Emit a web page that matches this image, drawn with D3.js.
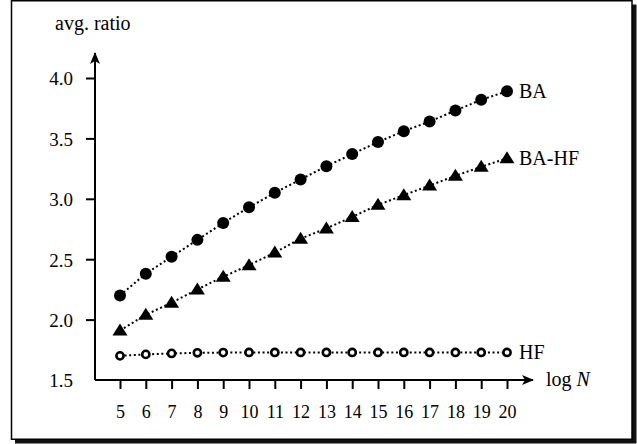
<!DOCTYPE html>
<html>
<head>
<meta charset="utf-8">
<script src="https://cdn.jsdelivr.net/npm/d3@7"></script>
<style>
  body { margin: 0; background: #fff; }
</style>
</head>
<body>
<div id="chart"></div>
<script>
const logN = [5, 6, 7, 8, 9, 10, 11, 12, 13, 14, 15, 16, 17, 18, 19, 20]
const ba = [2.20, 2.38, 2.52, 2.66, 2.80, 2.93, 3.05, 3.16, 3.27, 3.37, 3.47, 3.56, 3.64, 3.73, 3.82, 3.89]
const baHf = [1.91, 2.04, 2.14, 2.25, 2.355, 2.45, 2.555, 2.67, 2.755, 2.85, 2.95, 3.03, 3.11, 3.19, 3.265, 3.335]
const hf = [1.70, 1.712, 1.72, 1.725, 1.727, 1.728, 1.728, 1.728, 1.728, 1.728, 1.728, 1.728, 1.728, 1.728, 1.728, 1.728]
const yTicks = [1.5, 2.0, 2.5, 3.0, 3.5, 4.0]

const svgWidth = 637
const svgHeight = 444
const serif = 'Liberation Serif, DejaVu Serif, serif'

const svg = d3.select('#chart').append('svg')
  .attr('width', svgWidth)
  .attr('height', svgHeight)
  .style('display', 'block')
  .attr('font-family', serif)

// framed box with drop shadow
svg.append('rect')
  .attr('x', 15).attr('y', 4.5)
  .attr('width', 621.5).attr('height', 439)
  .attr('fill', '#111')
svg.append('rect')
  .attr('x', 11.5).attr('y', 0.75)
  .attr('width', 620.5).attr('height', 438.5)
  .attr('fill', '#fff')
  .attr('stroke', '#000')
  .attr('stroke-width', 1.5)

const x = d3.scaleLinear().domain([5, 20]).range([120, 507])
const y = d3.scaleLinear().domain([1.5, 4.0]).range([380, 78])
const x0 = 95

svg.append('defs').append('marker')
  .attr('id', 'arrow')
  .attr('viewBox', '0 0 12 10')
  .attr('refX', 11).attr('refY', 5)
  .attr('markerWidth', 12).attr('markerHeight', 10)
  .attr('markerUnits', 'userSpaceOnUse')
  .attr('orient', 'auto')
  .append('path')
  .attr('d', 'M0,0 L12,5 L0,10 L3,5 Z')
  .attr('fill', '#000')

// axis lines with arrows
svg.append('line')
  .attr('x1', x0).attr('y1', y(1.5))
  .attr('x2', x0).attr('y2', 53)
  .attr('stroke', '#000').attr('stroke-width', 2)
  .attr('marker-end', 'url(#arrow)')
svg.append('line')
  .attr('x1', x0).attr('y1', y(1.5))
  .attr('x2', 533).attr('y2', y(1.5))
  .attr('stroke', '#000').attr('stroke-width', 2)
  .attr('marker-end', 'url(#arrow)')

const yAxis = svg.append('g')
  .attr('transform', 'translate(' + x0 + ',0)')
  .call(d3.axisLeft(y).tickValues(yTicks.slice(1)).tickSize(9).tickPadding(13).tickFormat(d3.format('.1f')))
  .attr('font-family', serif)
yAxis.select('.domain').remove()
yAxis.selectAll('line').attr('stroke-width', 2)
yAxis.selectAll('text').attr('font-size', 19).attr('fill', '#000').attr('dy', '0.36em')

// 1.5 label sits at the x axis without a tick
svg.append('text')
  .attr('x', x0 - 22).attr('y', y(1.5))
  .attr('dy', '0.36em')
  .attr('text-anchor', 'end')
  .attr('font-size', 19)
  .text(d3.format('.1f')(yTicks[0]))

const xAxis = svg.append('g')
  .attr('transform', 'translate(0,' + y(1.5) + ')')
  .call(d3.axisBottom(x).tickValues(logN).tickSize(9).tickPadding(16).tickFormat(d3.format('d')))
  .attr('font-family', serif)
xAxis.select('.domain').remove()
xAxis.selectAll('line').attr('stroke-width', 2)
xAxis.selectAll('text').attr('font-size', 18).attr('fill', '#000')

svg.append('text')
  .attr('x', 55).attr('y', 30)
  .attr('font-size', 20)
  .text('avg. ratio')

const xLabel = svg.append('text')
  .attr('x', 546).attr('y', 386)
  .attr('font-size', 20)
xLabel.append('tspan').text('log ')
xLabel.append('tspan').attr('font-style', 'italic').text('N')

const line = d3.line()
  .x((d, i) => x(logN[i]))
  .y(d => y(d))

const series = [
  {name: 'BA', values: ba, marker: 'dot'},
  {name: 'BA-HF', values: baHf, marker: 'tri'},
  {name: 'HF', values: hf, marker: 'ring'}
]

series.forEach(s => {
  svg.append('path')
    .datum(s.values)
    .attr('fill', 'none')
    .attr('stroke', '#000')
    .attr('stroke-width', 2)
    .attr('stroke-dasharray', '2,2.6')
    .attr('d', line)

  const g = svg.append('g')
  const pts = g.selectAll('.pt')
    .data(s.values)
    .enter()
  if (s.marker === 'dot') {
    pts.append('circle')
      .attr('cx', (d, i) => x(logN[i]))
      .attr('cy', d => y(d))
      .attr('r', 6)
      .attr('fill', '#000')
  } else if (s.marker === 'tri') {
    pts.append('path')
      .attr('transform', (d, i) => 'translate(' + x(logN[i]) + ',' + y(d) + ')')
      .attr('d', 'M0,-7 L7.5,5 L-7.5,5 Z')
      .attr('fill', '#000')
  } else {
    pts.append('circle')
      .attr('cx', (d, i) => x(logN[i]))
      .attr('cy', d => y(d))
      .attr('r', 3.6)
      .attr('fill', '#fff')
      .attr('stroke', '#000')
      .attr('stroke-width', 2.6)
  }

  svg.append('text')
    .attr('x', 519)
    .attr('y', y(s.values[s.values.length - 1]))
    .attr('dy', '0.35em')
    .attr('font-size', 20)
    .text(s.name)
})
</script>
</body>
</html>
